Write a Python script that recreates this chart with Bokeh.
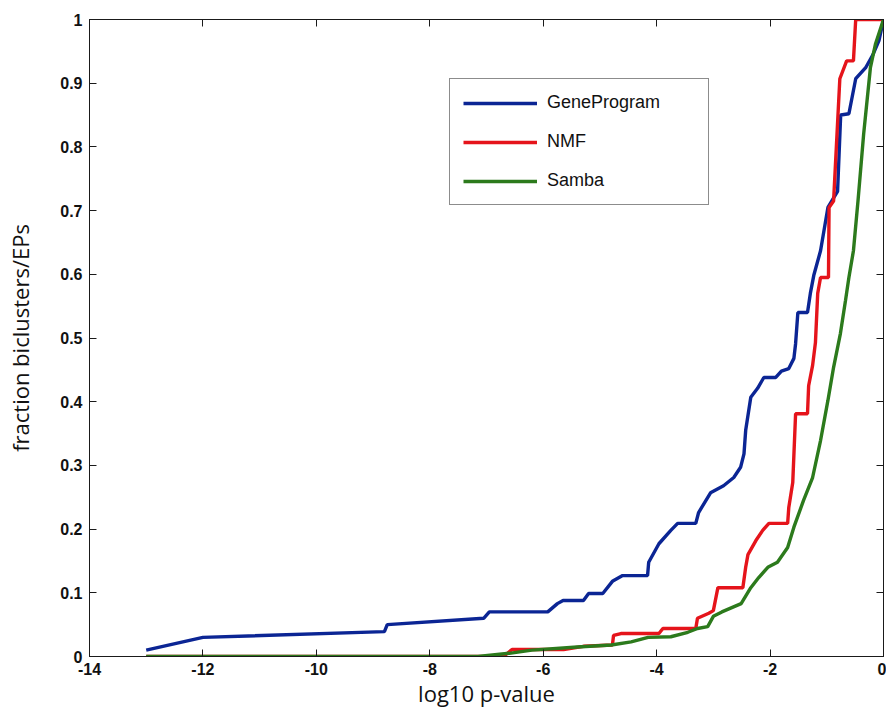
from bokeh.plotting import figure
from bokeh.models import (Legend, LegendItem, LinearAxis, FixedTicker,
                          NumeralTickFormatter, Range1d)
from bokeh.embed import file_html
from bokeh.resources import INLINE

# ---------------- data ----------------
series_names = ["GeneProgram", "NMF", "Samba"]

gp_x = [-13.0, -12.0, -8.8, -8.75, -7.05, -6.95, -5.92, -5.75, -5.65, -5.29,
        -5.2, -4.95, -4.78, -4.6, -4.16, -4.14, -3.96, -3.75, -3.63, -3.31,
        -3.26, -3.05, -2.82, -2.64, -2.52, -2.46, -2.43, -2.34, -2.22, -2.11,
        -1.9, -1.8, -1.67, -1.58, -1.55, -1.51, -1.34, -1.29, -1.23, -1.11,
        -0.98, -0.81, -0.755, -0.61, -0.49, -0.31, -0.19, -0.08, 0.0]
gp_y = [0.01, 0.03, 0.039, 0.05, 0.06, 0.07, 0.07, 0.083, 0.088, 0.088,
        0.099, 0.099, 0.118, 0.127, 0.127, 0.148, 0.177, 0.198, 0.209, 0.209,
        0.226, 0.257, 0.268, 0.281, 0.297, 0.318, 0.355, 0.407, 0.421, 0.438,
        0.438, 0.448, 0.452, 0.468, 0.491, 0.54, 0.54, 0.57, 0.598, 0.637,
        0.705, 0.73, 0.85, 0.852, 0.907, 0.925, 0.944, 0.967, 1.0]

nmf_x = [-13.0, -6.7, -6.55, -5.64, -5.29, -4.78, -4.76, -4.63, -3.96, -3.89,
         -3.31, -3.28, -3.08, -3.0, -2.92, -2.48, -2.43, -2.39, -2.25, -2.13,
         -2.02, -1.69, -1.67, -1.6, -1.55, -1.34, -1.32, -1.25, -1.2, -1.16,
         -1.11, -0.97, -0.96, -0.88, -0.77, -0.65, -0.53, -0.49, 0.0]
nmf_y = [0.0, 0.0, 0.011, 0.011, 0.016, 0.018, 0.033, 0.036, 0.036, 0.044,
         0.044, 0.06, 0.068, 0.072, 0.108, 0.108, 0.14, 0.16, 0.182, 0.198,
         0.209, 0.209, 0.234, 0.273, 0.381, 0.381, 0.425, 0.457, 0.493, 0.57,
         0.595, 0.595, 0.705, 0.715, 0.907, 0.935, 0.935, 1.0, 1.0]

samba_x = [-13.0, -7.15, -6.6, -6.2, -5.4, -4.8, -4.45, -4.15, -3.75, -3.45,
           -3.28, -3.1, -3.0, -2.85, -2.51, -2.34, -2.2, -2.04, -1.87, -1.69,
           -1.58, -1.41, -1.25, -1.11, -0.98, -0.88, -0.76, -0.67, -0.61,
           -0.53, -0.45, -0.35, -0.23, -0.14, 0.0]
samba_y = [0.0, 0.0, 0.005, 0.01, 0.015, 0.018, 0.023, 0.03, 0.031, 0.038,
           0.044, 0.047, 0.063, 0.07, 0.083, 0.108, 0.124, 0.14, 0.148, 0.171,
           0.203, 0.245, 0.281, 0.339, 0.402, 0.454, 0.507, 0.559, 0.595,
           0.637, 0.715, 0.82, 0.925, 0.962, 1.0]

x_ticks = [-14, -12, -10, -8, -6, -4, -2, 0]
y_ticks = [0, 0.1, 0.2, 0.3, 0.4, 0.5, 0.6, 0.7, 0.8, 0.9, 1]

x_label = "log10 p-value"
y_label = "fraction biclusters/EPs"

colors = ["#0b2594", "#e5141b", "#2c7a1c"]

# ---------------- figure ----------------
p = figure(width=886, height=715, output_backend="svg", toolbar_location=None,
           x_range=Range1d(-14, 0), y_range=Range1d(0, 1),
           min_border_left=89, min_border_right=3, min_border_top=19,
           min_border_bottom=59)
p.xgrid.visible = False
p.ygrid.visible = False
p.outline_line_color = "#1a1a1a"
p.outline_line_width = 1
p.background_fill_color = "white"
p.border_fill_color = "white"

TICK_FONT = "Liberation Sans"
LABEL_FONT = "Open Sans"
INK = "#1a1a1a"


def style_axis(ax, ticks, labels=True):
    ax.ticker = FixedTicker(ticks=ticks)
    ax.major_tick_in = 7
    ax.major_tick_out = 0
    ax.minor_tick_line_color = None
    ax.axis_line_color = INK
    ax.major_tick_line_color = INK
    ax.major_label_text_font = TICK_FONT
    ax.major_label_text_font_style = "bold"
    ax.major_label_text_color = "#111111"
    ax.major_label_text_font_size = "16px"
    if not labels:
        ax.major_label_overrides = {t: "" for t in ticks}
        ax.major_label_standoff = 0


xa = p.xaxis[0]
ya = p.yaxis[0]
style_axis(xa, x_ticks)
style_axis(ya, y_ticks)
xa.major_label_standoff = 6
ya.major_label_standoff = 7
xa.formatter = NumeralTickFormatter(format="0")
ya.formatter = NumeralTickFormatter(format="0.[0]")
xa.axis_label = x_label
ya.axis_label = y_label
for ax in (xa, ya):
    ax.axis_label_text_font = LABEL_FONT
    ax.axis_label_text_font_size = "22px"
    ax.axis_label_text_font_style = "normal"
    ax.axis_label_text_color = "#111111"
xa.axis_label_standoff = 0
ya.axis_label_standoff = 22

top = LinearAxis()
right = LinearAxis()
style_axis(top, x_ticks, labels=False)
style_axis(right, y_ticks, labels=False)
p.add_layout(top, "above")
p.add_layout(right, "right")

# ---------------- lines ----------------
r_gp = p.line(gp_x, gp_y, line_color=colors[0], line_width=3.4)
r_nmf = p.line(nmf_x, nmf_y, line_color=colors[1], line_width=3.4)
r_samba = p.line(samba_x, samba_y, line_color=colors[2], line_width=3.4)

legend = Legend(
    items=[LegendItem(label=series_names[0], renderers=[r_gp]),
           LegendItem(label=series_names[1], renderers=[r_nmf]),
           LegendItem(label=series_names[2], renderers=[r_samba])],
    location=(360, 451), margin=0, padding=13, spacing=18,
    glyph_width=74, glyph_height=20, label_height=20, label_width=148,
    label_standoff=10, border_line_color=INK, border_line_width=1,
    background_fill_color="white", background_fill_alpha=1,
    label_text_font=TICK_FONT, label_text_font_size="18px",
    label_text_color="#111111")
p.add_layout(legend)

open("out.html", "w").write(file_html(p, INLINE))
